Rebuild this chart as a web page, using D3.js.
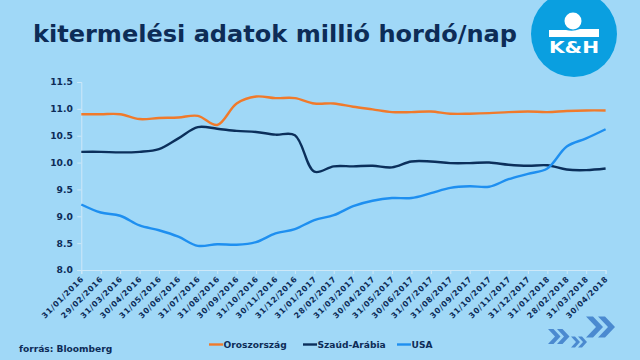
<!DOCTYPE html>
<html><head><meta charset="utf-8">
<script src="https://cdn.jsdelivr.net/npm/d3@7"></script>
<style>html,body{margin:0;padding:0;background:#a0d8f7;}svg{display:block;}</style>
</head><body>
<svg id="c" width="640" height="360"></svg>
<script>
const dates = ["31/01/2016","29/02/2016","31/03/2016","30/04/2016","31/05/2016","30/06/2016","31/07/2016","31/08/2016","30/09/2016","31/10/2016","30/11/2016","31/12/2016","31/01/2017","28/02/2017","31/03/2017","30/04/2017","31/05/2017","30/06/2017","31/07/2017","31/08/2017","30/09/2017","31/10/2017","30/11/2017","31/12/2017","31/01/2018","28/02/2018","31/03/2018","30/04/2018"];
const russia = [10.90,10.90,10.90,10.81,10.83,10.84,10.87,10.70,11.10,11.23,11.20,11.20,11.10,11.10,11.04,10.99,10.94,10.94,10.95,10.91,10.91,10.92,10.94,10.95,10.94,10.96,10.97,10.97];
const saudi = [10.20,10.20,10.19,10.20,10.25,10.45,10.66,10.63,10.59,10.57,10.52,10.51,9.83,9.93,9.93,9.94,9.91,10.02,10.02,9.99,9.99,10.00,9.96,9.94,9.95,9.87,9.86,9.89];
const usa = [9.22,9.07,9.01,8.83,8.74,8.62,8.45,8.48,8.47,8.52,8.68,8.76,8.93,9.02,9.19,9.29,9.34,9.34,9.43,9.53,9.56,9.55,9.69,9.79,9.89,10.30,10.45,10.62];
const yTicks = [8.0,8.5,9.0,9.5,10.0,10.5,11.0,11.5];
const seriesNames = ["Oroszország","Szaúd-Arábia","USA"];
const colors = ["#f07a2b","#0b2f5b","#1e8ff0"];

const FONT = "DejaVu Sans";
const svg = d3.select("#c");
const navy = "#0d2c57";
svg.append("rect").attr("width",640).attr("height",360).attr("fill","#a0d8f7");

// title
svg.append("text").attr("x",33).attr("y",42).attr("fill",navy)
  .attr("font-family",FONT).attr("font-weight","bold").attr("font-size",22.5)
  .attr("textLength",484).attr("lengthAdjust","spacingAndGlyphs")
  .text("kitermelési adatok millió hordó/nap");

// logo
const lg = svg.append("g");
lg.append("circle").attr("cx",574).attr("cy",34).attr("r",43).attr("fill","#0a9fe0");
lg.append("circle").attr("cx",573).attr("cy",21).attr("r",8.5).attr("fill","#fff");
lg.append("path").attr("d","M549,30 L566,30 Q573,32 580,29 L599,29 L599,37 L549,37 Z").attr("fill","#fff");
lg.append("text").attr("x",574).attr("y",53).attr("text-anchor","middle").attr("fill","#fff")
  .attr("font-family",FONT).attr("font-weight","bold").attr("font-size",15)
  .attr("textLength",50).attr("lengthAdjust","spacingAndGlyphs").text("K&H");

// scales
const x = d3.scalePoint().domain(dates).range([81.3,605.6]);
const y = d3.scaleLinear().domain([8,11.5]).range([270,82]);

// y axis
const yAxis = d3.axisLeft(y).tickValues(yTicks).tickFormat(d3.format(".1f")).tickSize(4).tickPadding(4.5);
const gy = svg.append("g").attr("transform","translate(81.3,0)").call(yAxis);
gy.select(".domain").attr("stroke","#cde8f8");
gy.selectAll(".tick line").attr("stroke","#cde8f8");
gy.selectAll("text").attr("fill",navy).attr("font-family",FONT).attr("font-weight","bold").attr("font-size",9.2);

// x axis
const xAxis = d3.axisBottom(x).tickSize(4).tickPadding(2);
const gx = svg.append("g").attr("transform","translate(0,270)").call(xAxis);
gx.select(".domain").attr("stroke","#cde8f8");
gx.selectAll(".tick line").attr("stroke","#cde8f8");
gx.selectAll("text").attr("fill",navy).attr("font-family",FONT).attr("font-weight","bold").attr("font-size",7.8)
  .attr("text-anchor","end").attr("dy",null).attr("y",0)
  .attr("textLength",55).attr("lengthAdjust","spacing")
  .attr("transform","translate(2,10) rotate(-45)");

// lines
const data = [russia,saudi,usa];
const line = d3.line().x((d,i)=>x(dates[i])).y(d=>y(d)).curve(d3.curveCatmullRom.alpha(0.5));
data.forEach((s,k)=>{
  svg.append("path").datum(s).attr("d",line).attr("fill","none")
    .attr("stroke",colors[k]).attr("stroke-width",2.4).attr("stroke-linejoin","round");
});

// legend
const legX = [209,303,397];
seriesNames.forEach((n,k)=>{
  svg.append("line").attr("x1",legX[k]).attr("x2",legX[k]+14).attr("y1",344.5).attr("y2",344.5)
    .attr("stroke",colors[k]).attr("stroke-width",2.4);
  svg.append("text").attr("x",legX[k]+14.5).attr("y",348).attr("fill",navy)
    .attr("font-family",FONT).attr("font-weight","bold").attr("font-size",9.1).text(n);
});

// source
svg.append("text").attr("x",19).attr("y",352).attr("fill",navy)
  .attr("font-family",FONT).attr("font-weight","bold").attr("font-size",9.1).text("forrás: Bloomberg");

// chevrons
const chev = (cx,cy,h,w,t)=>`M${cx},${cy-h} L${cx+t},${cy-h} L${cx+t+w},${cy} L${cx+t},${cy+h} L${cx},${cy+h} L${cx+w},${cy} Z`;
const cg = svg.append("g").attr("fill","#4b8ad0");
cg.append("path").attr("d",chev(586,327,10.5,10,7));
cg.append("path").attr("d",chev(598,327,10.5,10,7));
cg.append("path").attr("d",chev(548,336.5,7.5,7,5.5));
cg.append("path").attr("d",chev(557,336.5,7.5,7,5.5));
cg.append("path").attr("d",chev(571,342,5.5,5,4));
cg.append("path").attr("d",chev(578,342,5.5,5,4));
</script>
</body></html>
